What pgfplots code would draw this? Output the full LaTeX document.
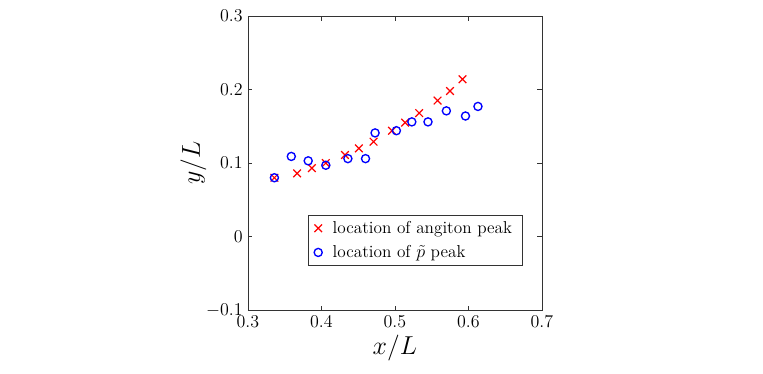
\documentclass[border=0pt]{standalone}
\usepackage{pgfplots}
\pgfplotsset{compat=1.18}
\begin{document}
\begin{tikzpicture}
% page frame: 763x374 px at 1.5 px/pt
\path[use as bounding box] (-165.3pt,-42.6pt) rectangle (343.4pt,206.7pt);
\begin{axis}[
  at={(0pt,0pt)}, anchor=south west,
  width=196pt, height=196pt, scale only axis,
  xmin=0.3, xmax=0.7, ymin=-0.1, ymax=0.3,
  xtick={0.3,0.4,...,0.7}, ytick={-0.1,0,0.1,0.2,0.3},
  xticklabels={0.3,0.4,0.5,0.6,0.7},
  yticklabels={$-0.1$,0,0.1,0.2,0.3},
  tick align=inside, major tick length=3pt,
  axis line style={black!80}, every tick/.style={black!80},
  tick label style={font=\fontsize{12}{14}\selectfont},
  xlabel={$x/L$}, ylabel={$y/L$},
  label style={font=\fontsize{18}{20}\selectfont},
  xlabel style={yshift=2pt},
  ylabel style={yshift=-7pt},
  legend style={font=\fontsize{11.5}{13.5}\selectfont, at={(0.935,0.15)}, anchor=south east,
    draw=black!80, inner xsep=4pt, inner ysep=2pt, row sep=2.5pt,
    nodes={inner xsep=3pt},
    /tikz/every odd column/.append style={column sep=4pt}},
  legend cell align=left,
]
\addplot[only marks, mark=x, mark size=3.6pt, red, line width=0.8pt] coordinates {
  (0.336,0.080)(0.367,0.086)(0.387,0.093)(0.406,0.100)(0.432,0.111)
  (0.451,0.120)(0.471,0.129)(0.496,0.144)(0.514,0.155)(0.533,0.168)
  (0.558,0.185)(0.575,0.198)(0.592,0.214)
};
\addlegendentry{location of angiton peak}
\addplot[only marks, mark=o, mark size=2.7pt, blue, line width=0.9pt] coordinates {
  (0.336,0.080)(0.359,0.109)(0.382,0.103)(0.406,0.097)(0.436,0.106)
  (0.460,0.106)(0.473,0.141)(0.502,0.144)(0.523,0.156)(0.545,0.156)
  (0.570,0.171)(0.596,0.164)(0.613,0.177)
};
\addlegendentry{location of $\tilde{p}$ peak}
\end{axis}
\end{tikzpicture}
\end{document}
